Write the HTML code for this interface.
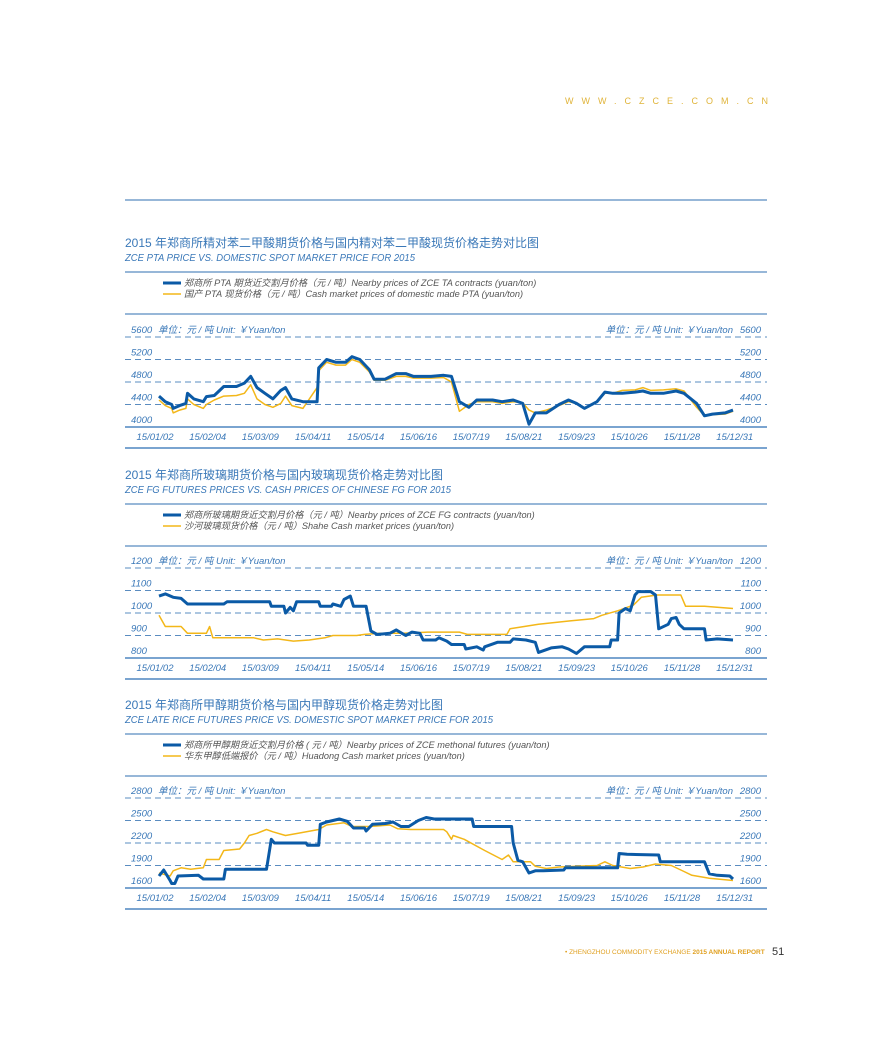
<!DOCTYPE html>
<html><head><meta charset="utf-8"><style>
html,body{margin:0;padding:0;background:#fff;}
svg{display:block;font-family:"Liberation Sans","Noto Sans CJK SC",sans-serif;}
</style></head><body>
<svg id="page" width="891" height="1043" viewBox="0 0 891 1043" xmlns="http://www.w3.org/2000/svg">
<rect width="891" height="1043" fill="#fff"/>
<text x="565" y="104" font-size="9" fill="#e0b43a" textLength="203" lengthAdjust="spacing">WWW.CZCE.COM.CN</text>
<line x1="125" y1="200" x2="767" y2="200" stroke="#2f6fb0" stroke-width="1"/>
<g id="charts"></g>
<text x="565" y="954" font-size="6.5" fill="#e0a020">• ZHENGZHOU COMMODITY EXCHANGE <tspan font-weight="bold">2015 ANNUAL REPORT</tspan></text>
<text x="772" y="955" font-size="11" fill="#333">51</text>
</svg>
<script>
// shared category ticks
const dateTicks=["15/01/02","15/02/04","15/03/09","15/04/11","15/05/14","15/06/16","15/07/19","15/08/21","15/09/23","15/10/26","15/11/28","15/12/31"];
// Chart 1 PTA
const ptaTicks=[4000,4400,4800,5200,5600];
const ptaFutDays=[0,4,8,9,13,17,18,22,28,30,35,41,49,54,58,62,67,72,77,80,84,91,100,101,106,112,118,122,127,133,136,143,150,156,161,172,180,185,190,196,201,206,211,217,224,230,234,238,245,253,259,264,269,277,282,287,293,301,306,311,319,327,332,340,345,350,358,363];
const ptaFutVals=[4550,4450,4400,4330,4380,4420,4600,4500,4450,4540,4560,4720,4720,4780,4900,4700,4600,4500,4650,4700,4500,4450,4450,5050,5200,5150,5150,5250,5200,5020,4850,4850,4950,4950,4900,4900,4920,4900,4450,4350,4480,4480,4480,4450,4480,4420,4050,4250,4250,4400,4480,4420,4330,4450,4620,4600,4600,4620,4640,4600,4600,4640,4600,4420,4200,4230,4250,4300];
const ptaCashVals=[4480,4380,4330,4250,4300,4330,4500,4400,4330,4400,4480,4550,4560,4600,4750,4500,4400,4350,4420,4550,4380,4330,4700,5000,5150,5100,5100,5200,5150,4980,4830,4830,4900,4900,4870,4870,4880,4800,4280,4400,4450,4450,4450,4420,4450,4430,4300,4250,4300,4380,4450,4420,4330,4450,4600,4600,4650,4660,4700,4650,4660,4680,4640,4350,4200,4220,4230,4280];
// Chart 2 FG
const fgTicks=[800,900,1000,1100,1200];
const fgFutDays=[0,4,9,14,18,41,43,70,71,79,80,83,85,87,101,102,109,110,115,117,121,123,131,134,138,146,150,156,160,165,167,175,177,182,185,193,194,201,205,206,214,222,224,232,238,240,248,255,259,264,269,285,286,290,291,295,298,301,303,311,314,316,322,324,327,329,332,345,346,353,363];
const fgFutVals=[1075,1085,1070,1065,1040,1040,1050,1050,1030,1030,1000,1025,1010,1050,1050,1030,1030,1040,1030,1060,1075,1030,1030,920,905,910,925,900,915,910,880,880,890,875,860,860,840,850,835,850,870,870,885,880,870,825,845,850,840,820,850,850,880,880,1000,1020,1010,1080,1095,1095,1080,930,950,975,980,950,930,930,880,885,880];
const fgCashDays=[0,4,14,18,30,32,34,60,66,75,85,95,105,110,125,130,140,155,170,190,195,220,222,240,260,275,280,290,300,305,315,330,333,345,363];
const fgCashVals=[990,940,940,910,910,940,890,890,880,885,875,880,890,900,900,905,910,910,915,915,905,905,930,950,965,975,990,1010,1035,1070,1080,1080,1030,1030,1020];
// Chart 3 methanol
const meTicks=[1600,1900,2200,2500,2800];
const meFutDays=[0,3,7,8,10,12,25,28,41,42,68,71,73,93,94,101,102,106,114,119,123,130,131,135,143,148,153,158,164,169,174,191,198,199,223,224,227,230,234,238,243,256,257,290,291,296,316,317,345,348,353,361,363];
const meFutVals=[1760,1840,1700,1660,1660,1760,1770,1720,1720,1850,1850,2250,2200,2200,2170,2170,2450,2480,2520,2490,2400,2400,2360,2450,2460,2480,2420,2420,2500,2540,2520,2520,2520,2420,2420,2200,1970,1950,1800,1830,1830,1840,1870,1870,2060,2050,2040,1950,1950,1790,1770,1760,1720];
const meCashDays=[0,7,9,14,20,28,30,38,41,51,54,57,62,68,72,80,88,101,106,117,122,133,146,151,159,180,182,185,186,193,206,217,221,224,235,238,245,253,264,277,282,287,298,306,314,324,332,337,348,363];
const meCashVals=[1800,1760,1830,1870,1850,1870,1980,1980,2100,2120,2200,2300,2330,2380,2350,2300,2330,2380,2440,2470,2420,2420,2440,2390,2380,2380,2350,2250,2300,2250,2100,1980,2040,1950,1950,1890,1860,1880,1890,1900,1950,1900,1860,1880,1920,1900,1820,1770,1730,1700];

const NS="http://www.w3.org/2000/svg";
const root=document.getElementById('charts');
const BLUE="#0b5aa6",GOLD="#f3b719",TXT="#3a78b8";
function mk(tag,attrs,parent){const e=document.createElementNS(NS,tag);for(const k in attrs)e.setAttribute(k,attrs[k]);(parent||root).appendChild(e);return e;}
function txt(s,attrs,parent){const e=mk('text',attrs,parent);e.textContent=s;return e;}
const X0=159,X1=733,DMAX=363;
function xDay(d){return X0+(X1-X0)*d/DMAX;}

function chart(c){
  const g=mk('g',{});
  
  
  const t1=txt(c.cn,{x:125,y:c.top+4,'font-size':12,fill:TXT},g);
  
  
  const t2=txt(c.en,{x:125,y:c.top+18,'font-size':10.5,'font-style':'italic',fill:TXT,textLength:c.enLen,lengthAdjust:'spacingAndGlyphs'},g);
  
  
  mk('line',{x1:125,x2:767,y1:c.top+29,y2:c.top+29,stroke:'#2f6fb0','stroke-width':1},g);
  const lg=mk('g',{},g);
  
  
  mk('line',{x1:163,x2:181,y1:c.top+40,y2:c.top+40,stroke:BLUE,'stroke-width':3},lg);
  const l1=txt(c.leg1,{x:184,y:c.top+43,'font-size':9.2,'font-style':'italic',fill:'#555'},lg);
  
  
  mk('line',{x1:163,x2:181,y1:c.top+51,y2:c.top+51,stroke:GOLD,'stroke-width':1.5},lg);
  const l2=txt(c.leg2,{x:184,y:c.top+54,'font-size':9.2,'font-style':'italic',fill:'#555'},lg);
  
  
  mk('line',{x1:125,x2:767,y1:c.top+71,y2:c.top+71,stroke:'#2f6fb0','stroke-width':1},g);
  const yT=c.bot-90, yB=c.bot;
  const ticks=c.ticks, vmin=ticks[0], vmax=ticks[ticks.length-1];
  const y=v=>yB-(v-vmin)/(vmax-vmin)*(yB-yT);
  ticks.forEach((v,i)=>{
    if(i>0){const gl=mk('line',{x1:125,x2:767,y1:y(v),y2:y(v),stroke:'#5a8cc0','stroke-width':1,'stroke-dasharray':'6,4'},g);
    
    }
    const a=txt(String(v),{x:131,y:y(v)-4,'font-size':9.5,'font-style':'italic',fill:TXT},g);
    
    
    const b=txt(String(v),{x:761,y:y(v)-4,'font-size':9.5,'font-style':'italic',fill:TXT,'text-anchor':'end'},g);
    
    
  });
  const u1=txt('单位：元 / 吨 Unit: ￥Yuan/ton',{x:158,y:yT-4,'font-size':9.5,'font-style':'italic',fill:TXT},g);
  
  
  const u2=txt('单位：元 / 吨 Unit: ￥Yuan/ton',{x:733,y:yT-4,'font-size':9.5,'font-style':'italic',fill:TXT,'text-anchor':'end'},g);
  
  
  const ax=mk('line',{x1:125,x2:767,y1:yB,y2:yB,stroke:'#4f86c0','stroke-width':1.5},g);
  
  
  dateTicks.forEach((s,i)=>{
    const d=txt(s,{x:155+i*52.7,y:yB+13,'font-size':9.5,'font-style':'italic',fill:TXT,'text-anchor':'middle'},g);
    
    
  });
  mk('line',{x1:125,x2:767,y1:yB+21,y2:yB+21,stroke:'#4f86c0','stroke-width':1.5},g);
  const path=(days,vals)=>days.map((d,i)=>(i?'L':'M')+xDay(d).toFixed(1)+','+y(vals[i]).toFixed(1)).join('');
  const cash=mk('path',{d:path(c.cashDays,c.cashVals),fill:'none',stroke:GOLD,'stroke-width':1.5,'stroke-linejoin':'round'},g);
  
  
  const fut=mk('path',{d:path(c.futDays,c.futVals),fill:'none',stroke:BLUE,'stroke-width':3,'stroke-linejoin':'round'},g);
  
  
}
chart({name:'pta-chart',top:243,bot:427,enLen:290,cn:'2015 年郑商所精对苯二甲酸期货价格与国内精对苯二甲酸现货价格走势对比图',en:'ZCE PTA PRICE VS. DOMESTIC SPOT MARKET PRICE FOR 2015',
 leg1:'郑商所 PTA 期货近交割月价格（元 / 吨）Nearby prices of ZCE TA contracts (yuan/ton)',leg2:'国产 PTA 现货价格（元 / 吨）Cash market prices of domestic made PTA (yuan/ton)',
 ticks:ptaTicks,futDays:ptaFutDays,futVals:ptaFutVals,cashDays:ptaFutDays,cashVals:ptaCashVals});
chart({name:'fg-chart',top:475,bot:658,enLen:326,cn:'2015 年郑商所玻璃期货价格与国内玻璃现货价格走势对比图',en:'ZCE FG FUTURES PRICES VS. CASH PRICES OF CHINESE FG FOR 2015',
 leg1:'郑商所玻璃期货近交割月价格（元 / 吨）Nearby prices of ZCE FG contracts (yuan/ton)',leg2:'沙河玻璃现货价格（元 / 吨）Shahe Cash market prices (yuan/ton)',
 ticks:fgTicks,futDays:fgFutDays,futVals:fgFutVals,cashDays:fgCashDays,cashVals:fgCashVals});
chart({name:'methanol-chart',top:705,bot:888,enLen:368,cn:'2015 年郑商所甲醇期货价格与国内甲醇现货价格走势对比图',en:'ZCE LATE RICE FUTURES PRICE VS. DOMESTIC SPOT MARKET PRICE FOR 2015',
 leg1:'郑商所甲醇期货近交割月价格 ( 元 / 吨）Nearby prices of ZCE methonal futures (yuan/ton)',leg2:'华东甲醇低端报价（元 / 吨）Huadong Cash market prices (yuan/ton)',
 ticks:meTicks,futDays:meFutDays,futVals:meFutVals,cashDays:meCashDays,cashVals:meCashVals});
</script>
</body></html>
